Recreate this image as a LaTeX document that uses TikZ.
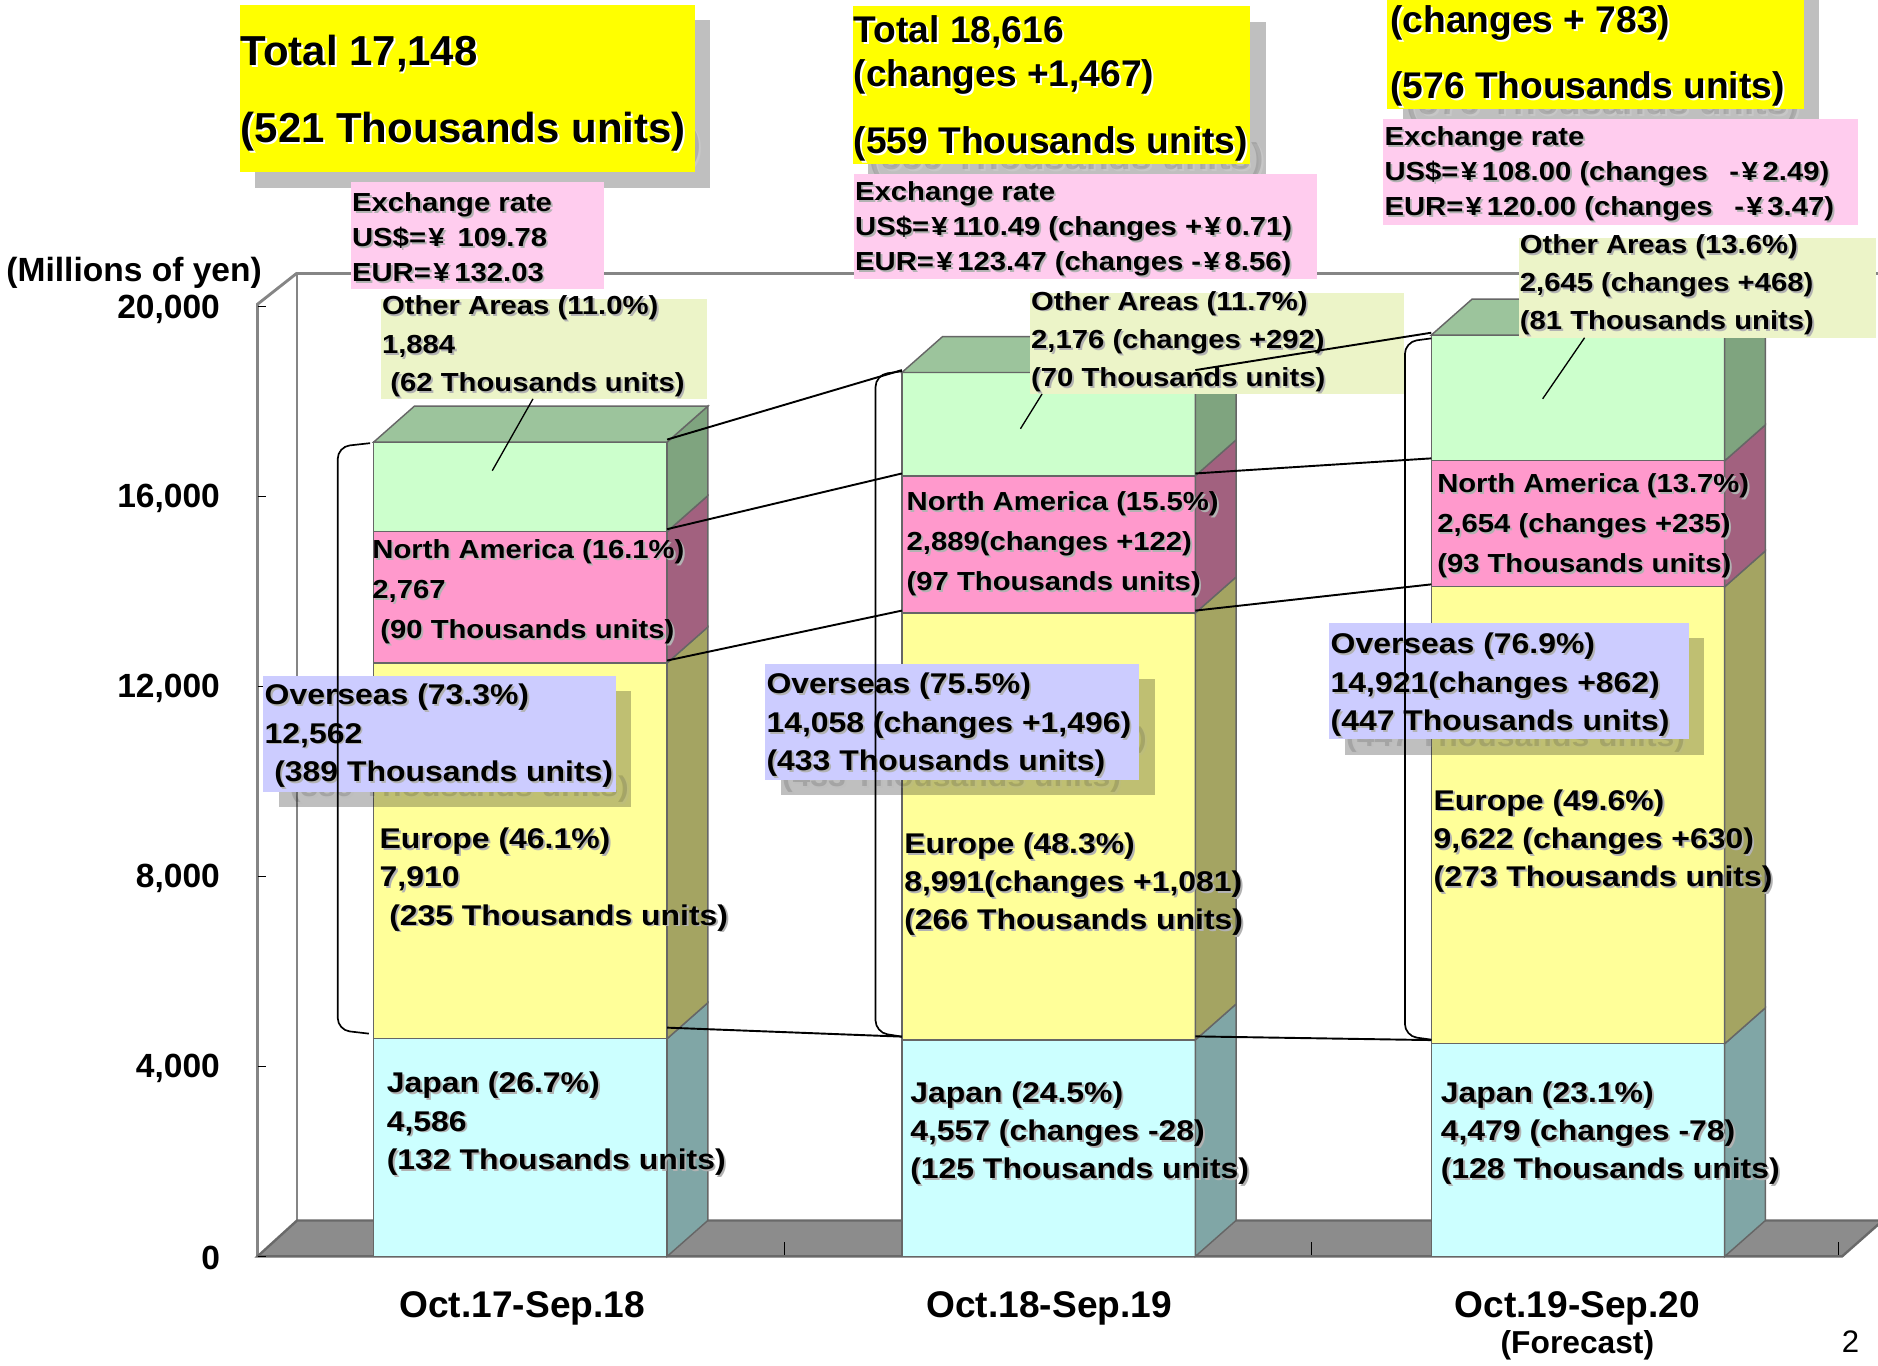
\documentclass[tikz,border=0pt]{standalone}
\usepackage{fontspec}
\setmainfont{Liberation Sans}
\newfontfamily\wf[FakeStretch=1.12]{Liberation Sans}
\usetikzlibrary{calc,fit}
\definecolor{jpF}{RGB}{204,255,255}
\definecolor{jpS}{RGB}{128,166,166}
\definecolor{euF}{RGB}{255,255,153}
\definecolor{euS}{RGB}{164,164,98}
\definecolor{naF}{RGB}{255,153,204}
\definecolor{naS}{RGB}{162,97,127}
\definecolor{otF}{RGB}{204,255,204}
\definecolor{otS}{RGB}{127,164,127}
\definecolor{otT}{RGB}{156,196,156}
\definecolor{floorC}{RGB}{140,140,140}
\definecolor{floorE}{RGB}{105,105,105}
\definecolor{pinkB}{RGB}{255,204,238}
\definecolor{greenB}{RGB}{236,244,200}
\definecolor{lavB}{RGB}{204,204,255}
\definecolor{yelB}{RGB}{255,255,0}
\newcommand\ts[2][black!30]{\leavevmode\rlap{\kern0.8pt\raisebox{-0.8pt}{\color{#1}#2}}#2}
\newcommand\yen{\kern1pt¥\kern2pt}
\newcommand\barseg[5]{%
  \filldraw[fill=#4, bedge] (#1,#2) rectangle (#1+245,#3);
  \filldraw[fill=#5, bedge] (#1+245,#2) -- (#1+245,#3) -- (#1+279,#3-30) -- (#1+279,#2-30) -- cycle;}
\newcommand\bartop[2]{\filldraw[fill=otT, bedge] (#1,#2) -- (#1+245,#2) -- (#1+279,#2-30) -- (#1+34,#2-30) -- cycle;}
\newcommand\YoneT{\ts[white]{Total 17,148}\\\ts[white]{(521 Thousands units)}}
\newcommand\YtwoT{\ts[white]{Total 18,616}\\\ts[white]{(changes +1,467)}\\[9.5pt]\ts[white]{(559 Thousands units)}}
\newcommand\YthrT{\ts[white]{(changes + 783)}\\\ts[white]{(576 Thousands units)}}
\newcommand\LoneT{\ts{Overseas (73.3\%)}\\\ts{12,562}\\\hspace*{4pt}\ts{(389 Thousands units)}}
\newcommand\LtwoT{\ts{Overseas (75.5\%)}\\\ts{14,058 (changes +1,496)}\\\ts{(433 Thousands units)}}
\newcommand\LthrT{\ts{Overseas (76.9\%)}\\\ts{14,921(changes +862)}\\\ts{(447 Thousands units)}}
\begin{document}
\begin{tikzpicture}[x=0.5pt,y=-0.5pt,
  bedge/.style={draw=black!60, line width=0.6pt},
  wall/.style={draw=black!48, line width=1.2pt},
  conn/.style={draw=black, line width=0.8pt},
  lead/.style={draw=black, line width=0.55pt},
  brk/.style={draw=black, line width=0.7pt, rounded corners=5pt},
  lbl/.style={anchor=west, inner sep=0pt, outer sep=0pt, align=left},
  naF/.style={font=\wf\bfseries\fontsize{10.9}{16.75}\selectfont},
  grF/.style={font=\wf\bfseries\fontsize{10.9}{16}\selectfont},
  pkF/.style={font=\wf\bfseries\fontsize{10.9}{14.6}\selectfont},
  lgF/.style={font=\wf\bfseries\fontsize{11.9}{16}\selectfont},
  yA/.style={font=\bfseries\fontsize{17.5}{32}\selectfont},
  yB/.style={font=\bfseries\fontsize{15.5}{18.5}\selectfont},
  yC/.style={font=\bfseries\fontsize{15.5}{27.5}\selectfont},
  axl/.style={anchor=east, inner sep=0pt, font=\bfseries\fontsize{14}{16}\selectfont},
  cat/.style={inner sep=0pt, font=\bfseries\fontsize{15.5}{18}\selectfont},
  bx/.style={inner sep=0pt, outer sep=0pt},
  shd/.style={inner sep=0pt, outer sep=0pt, fill=black, fill opacity=0.25},
  ghost/.style={text opacity=0.13}]
\useasboundingbox (0,0) rectangle (1568,1140);
\fill[white] (0,0) rectangle (1568,1140);
\clip (0,0) rectangle (1568,1140);
% walls
\draw[wall] (248,1019) -- (248,228) -- (1600,228);
\draw[wall] (215,1049) -- (215,254) -- (248,228);
% floor
\filldraw[fill=floorC, draw=floorE, line width=1pt] (215,1049) -- (1538,1049) -- (1572,1019) -- (248,1019) -- cycle;
\foreach \x in {655,1095,1535} \draw[line width=0.5pt] (\x,1037) -- (\x,1048);
\foreach \i in {0,...,5} \draw[line width=0.6pt] (215,{1049-158.6*\i}) -- (222,{1049-158.6*\i});
% axis labels
\node[axl] (a20) at (184,258) {20,000};
\node[axl] (a16) at (184,416) {16,000};
\node[axl] (a12) at (184,575) {12,000};
\node[axl] (a8) at (184,733) {8,000};
\node[axl] (a4) at (184,892) {4,000};
\node[axl] (a0) at (184,1050) {0};
\node[inner sep=0pt, anchor=west, font=\bfseries\fontsize{14}{16}\selectfont] (unit) at (5,228) {(Millions of yen)};
% bars
\barseg{312}{1049}{867.2}{jpF}{jpS}
\barseg{312}{867.2}{553.5}{euF}{euS}
\barseg{312}{553.5}{443.8}{naF}{naS}
\barseg{312}{443.8}{369.1}{otF}{otS}
\bartop{312}{369.1}
\barseg{753}{1049}{868.3}{jpF}{jpS}
\barseg{753}{868.3}{511.8}{euF}{euS}
\barseg{753}{511.8}{397.3}{naF}{naS}
\barseg{753}{397.3}{311.0}{otF}{otS}
\bartop{753}{311.0}
\barseg{1195}{1049}{871.4}{jpF}{jpS}
\barseg{1195}{871.4}{489.9}{euF}{euS}
\barseg{1195}{489.9}{384.7}{naF}{naS}
\barseg{1195}{384.7}{279.8}{otF}{otS}
\bartop{1195}{279.8}
% category labels
\node[cat] (c1) at (436,1092) {Oct.17-Sep.18};
\node[cat] (c2) at (876,1092) {Oct.18-Sep.19};
\node[cat] (c3) at (1317,1092) {Oct.19-Sep.20};
\node[inner sep=0pt, font=\bfseries\fontsize{13.25}{15}\selectfont] (c3f) at (1317,1123) {(Forecast)};
\node[inner sep=0pt, font=\fontsize{13}{15}\selectfont] (pg) at (1545,1120) {2};
% labels inside bars
\node[lbl,naF] (na1) at (311,495) {\ts{North America (16.1\%)}\\\ts{2,767}\\\hspace*{3.3pt}\ts{(90 Thousands units)}};
\node[lbl,lgF] (eu1) at (317,735) {\ts{Europe (46.1\%)}\\\ts{7,910}\\\hspace*{4pt}\ts{(235 Thousands units)}};
\node[lbl,lgF] (jp1) at (323,939) {\ts{Japan (26.7\%)}\\\ts{4,586}\\\ts{(132 Thousands units)}};
\node[lbl,naF] (na2) at (757,455) {\ts{North America (15.5\%)}\\\ts{2,889(changes +122)}\\\ts{(97 Thousands units)}};
\node[lbl,lgF] (eu2) at (755,739) {\ts{Europe (48.3\%)}\\\ts{8,991(changes +1,081)}\\\ts{(266 Thousands units)}};
\node[lbl,lgF] (jp2) at (760,947) {\ts{Japan (24.5\%)}\\\ts{4,557 (changes -28)}\\\ts{(125 Thousands units)}};
\node[lbl,naF] (na3) at (1200,440) {\ts{North America (13.7\%)}\\\ts{2,654 (changes +235)}\\\ts{(93 Thousands units)}};
\node[lbl,lgF] (eu3) at (1197,703) {\ts{Europe (49.6\%)}\\\ts{9,622 (changes +630)}\\\ts{(273 Thousands units)}};
\node[lbl,lgF] (jp3) at (1203,947) {\ts{Japan (23.1\%)}\\\ts{4,479 (changes -78)}\\\ts{(128 Thousands units)}};
% yellow total boxes
\node[shd, fit={(213,17)(593,157)}] (y1s) {};
\node[lbl,yA,ghost] (y1g) at (214,91.5) {\YoneT};
\node[bx, fill=yelB, fit={(200,4)(580,144)}] (y1) {};
\node[lbl,yA] (y1t) at (201,78.5) {\YoneT};
\node[shd, fit={(725,18)(1057,150)}] (y2s) {};
\node[lbl,yB,ghost] (y2g) at (726,87.6) {\YtwoT};
\node[bx, fill=yelB, fit={(712,5)(1044,137)}] (y2) {};
\node[lbl,yB] (y2t) at (713,74.6) {\YtwoT};
\node[shd, fit={(1171,-47)(1519,104)}] (y3s) {};
\node[lbl,yC,ghost] (y3g) at (1174,60.6) {\YthrT};
\node[bx, fill=yelB, fit={(1158,-60)(1506,91)}] (y3) {};
\node[lbl,yC] (y3t) at (1161,47.6) {\YthrT};
% exchange rate boxes
\node[bx, fill=pinkB, fit={(293,152)(504,241)}] (p1) {};
\node[lbl,pkF] (p1t) at (294,199) {\ts{Exchange rate}\\\ts{US\$=\yen\ 109.78}\\\ts{EUR=\yen 132.03}};
\node[bx, fill=pinkB, fit={(713,145)(1100,233)}] (p2) {};
\node[lbl,pkF] (p2t) at (714,192) {\ts{Exchange rate}\\\ts{US\$=\yen 110.49 (changes +\yen 0.71)}\\\ts{EUR=\yen 123.47 (changes -\yen 8.56)}};
\node[bx, fill=pinkB, fit={(1155,99)(1551,188)}] (p3) {};
\node[lbl,pkF] (p3t) at (1156,146) {\ts{Exchange rate}\\\ts{US\$=\yen 108.00 (changes\hspace{9pt}-\yen 2.49)}\\\ts{EUR=\yen 120.00 (changes\hspace{9pt}-\yen 3.47)}};
% other areas boxes
\node[bx, fill=greenB, fit={(318,250)(590,333)}] (g1) {};
\node[lbl,grF] (g1t) at (319,290) {\ts{Other Areas (11.0\%)}\\\ts{1,884}\\\hspace*{3.5pt}\ts{(62 Thousands units)}};
\node[bx, fill=greenB, fit={(860,245)(1172,329)}] (g2) {};
\node[lbl,grF] (g2t) at (861,286) {\ts{Other Areas (11.7\%)}\\\ts{2,176 (changes +292)}\\\ts{(70 Thousands units)}};
\node[bx, fill=greenB, fit={(1268,199)(1566,282)}] (g3) {};
\node[lbl,grF] (g3t) at (1269,238.6) {\ts{Other Areas (13.6\%)}\\\ts{2,645 (changes +468)}\\\ts{(81 Thousands units)}};
% overseas boxes
\node[shd, fit={(233,577)(527,674)}] (l1s) {};
\node[lbl,lgF,ghost] (l1g) at (234,628) {\LoneT};
\node[bx, fill=lavB, fit={(220,564)(514,661)}] (l1) {};
\node[lbl,lgF] (l1t) at (221,615) {\LoneT};
\node[shd, fit={(652,567)(964,664)}] (l2s) {};
\node[lbl,lgF,ghost] (l2g) at (653,619) {\LtwoT};
\node[bx, fill=lavB, fit={(639,554)(951,651)}] (l2) {};
\node[lbl,lgF] (l2t) at (640,606) {\LtwoT};
\node[shd, fit={(1123,533)(1423,630)}] (l3s) {};
\node[lbl,lgF,ghost] (l3g) at (1124,585.5) {\LthrT};
\node[bx, fill=lavB, fit={(1110,520)(1410,617)}] (l3) {};
\node[lbl,lgF] (l3t) at (1111,572.5) {\LthrT};
% series line end points
\coordinate (s1o) at (557,367);   \coordinate (s2oL) at (753,309);
\coordinate (s1n) at (557,441.8); \coordinate (s2nL) at (753,395.3);
\coordinate (s1e) at (557,551.5); \coordinate (s2eL) at (753,509.8);
\coordinate (s1j) at (557,858);   \coordinate (s2jL) at (753,865.5);
\coordinate (s2oR) at (998,309);   \coordinate (s3o) at (1195,277.8);
\coordinate (s2nR) at (998,395.3); \coordinate (s3n) at (1195,382.7);
\coordinate (s2eR) at (998,509.8); \coordinate (s3e) at (1195,487.9);
\coordinate (s2jR) at (998,865.3); \coordinate (s3j) at (1195,868.4);
\draw[conn] (s1o) -- (s2oL);
\draw[conn] (s1n) -- (s2nL);
\draw[conn] (s1e) -- (s2eL);
\draw[conn] (s1j) -- (s2jL);
\draw[conn] (s2oR) -- (s3o);
\draw[conn] (s2nR) -- (s3n);
\draw[conn] (s2eR) -- (s3e);
\draw[conn] (s2jR) -- (s3j);
% overseas brackets
\coordinate (b1t) at (309,370); \coordinate (b1b) at (308,863);
\coordinate (b2t) at (753,310); \coordinate (b2b) at (753,865.5);
\coordinate (b3t) at (1195,282.5); \coordinate (b3b) at (1195,868);
\draw[brk] (b1t) -- (282,373) -- (282,860) -- (b1b);
\draw[brk] (b2t) -- (731,313) -- (731,862) -- (b2b);
\draw[brk] (b3t) -- (1173,285.5) -- (1173,865) -- (b3b);
% leaders for other areas
\coordinate (k1) at (411,393); \coordinate (k2) at (852,358); \coordinate (k3) at (1288,333);
\draw[lead] (445,333) -- (k1);
\draw[lead] (870,329) -- (k2);
\draw[lead] (1323,282) -- (k3);
\end{tikzpicture}
\end{document}
